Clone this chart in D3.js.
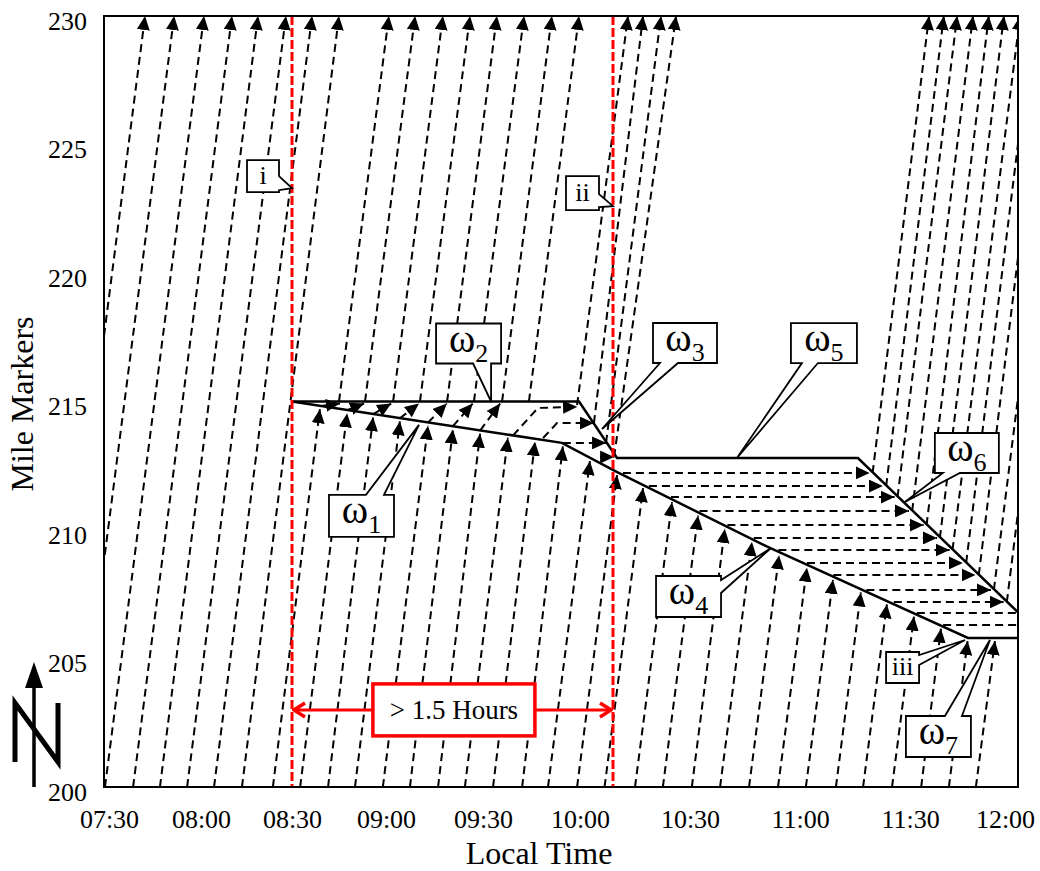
<!DOCTYPE html>
<html>
<head>
<meta charset="utf-8">
<script src="https://cdn.jsdelivr.net/npm/d3@7"></script>
<style>
  body { margin: 0; background: #fff; }
  svg { font-family: "Liberation Serif", "Times New Roman", serif; }
</style>
</head>
<body>
<div id="chart"></div>
<script>
// Time is kept as minutes after 07:30, position as mile marker.
const timeTicks = [0, 30, 60, 90, 120, 150, 180, 210, 240, 270];
const timeLabels = ['07:30', '08:00', '08:30', '09:00', '09:30', '10:00', '10:30', '11:00', '11:30', '12:00'];
const mileTicks = [200, 205, 210, 215, 220, 225, 230];

// Vehicles that pass before the incident (mile 200 -> 230)
const freeFlow = [
  [[-17.9, 200], [12.7, 230]],
  [[-9.0, 200], [21.7, 230]],
  [[0.3, 200], [31.0, 230]],
  [[9.0, 200], [40.2, 230]],
  [[17.3, 200], [48.8, 230]],
  [[25.7, 200], [58.0, 230]],
  [[34.3, 200], [66.4, 230]],
  [[43.5, 200], [75.0, 230]]
];

// Vehicles running into the back of the queue
const approach = [
  [[53.7, 200], [68.9, 214.70]],
  [[62.6, 200], [77.6, 214.54]],
  [[71.5, 200], [85.9, 214.39]],
  [[80.1, 200], [94.3, 214.23]],
  [[89.0, 200], [103.0, 214.06]],
  [[97.4, 200], [110.7, 213.91]],
  [[106.1, 200], [119.1, 213.75]],
  [[114.4, 200], [127.7, 213.59]],
  [[123.1, 200], [136.1, 213.43]],
  [[132.1, 200], [144.7, 213.25]],
  [[140.1, 200], [152.7, 212.68]],
  [[149.1, 200], [160.1, 212.14]],
  [[156.7, 200], [167.2, 211.63]],
  [[165.0, 200], [175.1, 211.08]],
  [[172.6, 200], [182.2, 210.56]],
  [[180.5, 200], [189.5, 210.04]],
  [[188.2, 200], [196.9, 209.53]],
  [[196.1, 200], [204.3, 209.02]],
  [[204.0, 200], [211.9, 208.53]],
  [[211.6, 200], [219.0, 208.06]],
  [[219.8, 200], [226.6, 207.57]],
  [[227.2, 200], [233.7, 207.11]],
  [[235.1, 200], [241.1, 206.63]],
  [[243.1, 200], [248.6, 206.16]],
  [[250.8, 200], [256.0, 205.68]],
  [[258.3, 200], [263.6, 205.68]]
];

// Slow movement inside the first queue
const inQueue = [
  [[68.9, 214.82], [75.3, 214.92]],
  [[77.6, 214.66], [83.0, 214.92]],
  [[85.9, 214.51], [91.6, 214.92]],
  [[94.3, 214.35], [100.2, 214.92]],
  [[103.0, 214.18], [108.8, 214.92]],
  [[110.7, 214.04], [116.8, 214.92]],
  [[119.1, 213.87], [125.3, 214.92]],
  [[129.3, 213.68], [137.0, 214.75], [149.1, 214.79]],
  [[138.6, 213.58], [142.9, 214.16], [153.8, 214.16]],
  [[144.7, 213.39], [157.1, 213.39]],
  [[155.5, 212.84], [159.3, 212.84]]
];

// Stopped vehicles in the second queue
const stopped = [
  [[161.7, 212.22], [229.0, 212.22]],
  [[168.8, 211.71], [232.6, 211.71]],
  [[174.8, 211.28], [235.8, 211.28]],
  [[182.6, 210.74], [239.7, 210.74]],
  [[190.2, 210.19], [243.8, 210.19]],
  [[197.4, 209.69], [247.5, 209.69]],
  [[204.1, 209.22], [251.0, 209.22]],
  [[211.9, 208.72], [254.7, 208.72]],
  [[219.1, 208.25], [258.2, 208.25]],
  [[228.1, 207.67], [262.5, 207.67]],
  [[235.6, 207.20], [266.0, 207.20]]
];
const stillStopped = [
  [[241.9, 206.77], [270, 206.77]],
  [[249.2, 206.30], [270, 206.30]]
];

// Vehicles leaving the queue front (-> mile 230)
const departures = [
  [[75.0, 215], [90.9, 230]],
  [[83.3, 215], [99.0, 230]],
  [[92.2, 215], [107.6, 230]],
  [[100.5, 215], [116.0, 230]],
  [[108.9, 215], [124.3, 230]],
  [[117.2, 215], [132.7, 230]],
  [[125.9, 215], [141.3, 230]],
  [[134.2, 215], [149.7, 230]],
  [[149.1, 214.86], [163.1, 230]],
  [[153.8, 214.16], [167.2, 230]],
  [[157.1, 213.39], [172.1, 230]],
  [[159.3, 212.84], [176.2, 230]],
  [[229.8, 212.22], [245.3, 230]],
  [[233.5, 211.71], [249.4, 230]],
  [[236.6, 211.28], [253.1, 230]],
  [[240.6, 210.74], [257.5, 230]],
  [[244.6, 210.19], [261.9, 230]],
  [[248.3, 209.69], [266.1, 230]],
  [[251.8, 209.22], [270.6, 230]],
  [[255.6, 208.72], [274.4, 230]],
  [[259.1, 208.25], [278.3, 230]],
  [[263.3, 207.67], [283.3, 230]],
  [[266.9, 207.20], [287.2, 230]]
];

// Shock waves: back of queue (w1, w4, w7) and front of queue (w2, w3, w5, w6)
const queueTail = [[60, 215], [144.4, 213.39], [160.0, 212.26], [201.8, 209.30], [256.1, 205.80], [270, 205.80]];
const queueHead = [[60, 215], [149.7, 215], [160.1, 212.80], [225.8, 212.80], [270, 206.80]];

// Marked times (08:30 and 10:09)
const markTimes = [60, 159];
const markLabels = ['i', 'ii'];

const width = 1040;
const height = 871;
const plot = { left: 104, right: 1018, top: 16, bottom: 787 };

// The time labels in the original are not evenly spaced, so the scale is piecewise.
const timeStops = [104, 201, 292, 386, 483, 580, 690, 800, 910, 1018];

const x = d3.scaleLinear().domain(timeTicks).range(timeStops);
const y = d3.scaleLinear().domain([200, 230]).range([plot.bottom, plot.top]);

const svg = d3.select('#chart').append('svg')
  .attr('width', width)
  .attr('height', height);

const defs = svg.append('defs');

defs.append('clipPath').attr('id', 'plotClip')
  .append('rect')
  .attr('x', plot.left)
  .attr('y', plot.top)
  .attr('width', plot.right - plot.left)
  .attr('height', plot.bottom - plot.top);

defs.append('marker')
  .attr('id', 'arrow')
  .attr('viewBox', '0 -6.5 14 13')
  .attr('refX', 14)
  .attr('refY', 0)
  .attr('markerUnits', 'userSpaceOnUse')
  .attr('markerWidth', 14)
  .attr('markerHeight', 13)
  .attr('orient', 'auto')
  .append('path')
  .attr('d', 'M0,-6.5L14,0L0,6.5Z')
  .attr('fill', '#000');

defs.append('marker')
  .attr('id', 'redArrow')
  .attr('viewBox', '-3 -10 16 20')
  .attr('refX', 11)
  .attr('refY', 0)
  .attr('markerUnits', 'userSpaceOnUse')
  .attr('markerWidth', 16)
  .attr('markerHeight', 20)
  .attr('orient', 'auto-start-reverse')
  .append('path')
  .attr('d', 'M0,-7L11,0L0,7')
  .attr('fill', 'none')
  .attr('stroke', '#ff0000')
  .attr('stroke-width', 3.5);

const line = d3.line()
  .x(d => x(d[0]))
  .y(d => y(d[1]));

const plotArea = svg.append('g').attr('clip-path', 'url(#plotClip)');

// Draw a group of vehicle trajectories
function drawTrips(data, withArrow) {
  plotArea.append('g')
    .selectAll('path')
    .data(data)
    .join('path')
    .attr('d', line)
    .attr('fill', 'none')
    .attr('stroke', '#000')
    .attr('stroke-width', 2)
    .attr('stroke-dasharray', '8,5');
}

drawTrips(freeFlow);
drawTrips(approach);
drawTrips(inQueue);
drawTrips(stopped);
drawTrips(stillStopped);
drawTrips(departures);

// Arrowheads go on a solid invisible copy so the dash pattern does not matter
function drawHeads(data) {
  plotArea.append('g')
    .selectAll('path')
    .data(data)
    .join('path')
    .attr('d', line)
    .attr('fill', 'none')
    .attr('stroke', 'none')
    .attr('marker-end', 'url(#arrow)');
}

drawHeads(freeFlow);
drawHeads(approach);
drawHeads(inQueue);
drawHeads(stopped);
drawHeads(departures);

// Shock wave lines
plotArea.selectAll('.shock')
  .data([queueTail, queueHead])
  .join('path')
  .attr('class', 'shock')
  .attr('d', line)
  .attr('fill', 'none')
  .attr('stroke', '#000')
  .attr('stroke-width', 2.5)
  .attr('stroke-linejoin', 'miter');

// Red dashed incident lines
svg.selectAll('.mark')
  .data(markTimes)
  .join('line')
  .attr('class', 'mark')
  .attr('x1', d => x(d))
  .attr('x2', d => x(d))
  .attr('y1', plot.top)
  .attr('y2', plot.bottom)
  .attr('stroke', '#ff0000')
  .attr('stroke-width', 3)
  .attr('stroke-dasharray', '9,3');

// Plot border
svg.append('rect')
  .attr('x', plot.left)
  .attr('y', plot.top)
  .attr('width', plot.right - plot.left)
  .attr('height', plot.bottom - plot.top)
  .attr('fill', 'none')
  .attr('stroke', '#000')
  .attr('stroke-width', 2);

// Duration arrow between the two red lines
svg.append('line')
  .attr('x1', x(markTimes[0]) + 2)
  .attr('x2', x(markTimes[1]) - 2)
  .attr('y1', y(203))
  .attr('y2', y(203))
  .attr('stroke', '#ff0000')
  .attr('stroke-width', 3)
  .attr('marker-start', 'url(#redArrow)')
  .attr('marker-end', 'url(#redArrow)');

const hoursX = x(111);
const hoursY = y(203);
svg.append('rect')
  .attr('x', hoursX - 81)
  .attr('y', hoursY - 26)
  .attr('width', 162)
  .attr('height', 52)
  .attr('fill', '#fff')
  .attr('stroke', '#ff0000')
  .attr('stroke-width', 3.5);

svg.append('text')
  .attr('x', hoursX)
  .attr('y', hoursY + 9)
  .attr('text-anchor', 'middle')
  .attr('font-size', 27)
  .text('> 1.5 Hours');

// Callout boxes: tip in data units, box offset and size in pixels
const callouts = [
  { text: markLabels[0], tip: [markTimes[0], 223.3], box: [-45, -28, 32, 32], side: 'right', base: [16, 30] },
  { text: markLabels[1], tip: [markTimes[1], 222.6], box: [-47, -30, 33, 34], side: 'right', base: [18, 31] },
  { text: 'iii', tip: [255.3, 205.72], box: [-79, 12, 33, 31], side: 'right', base: [3, 13] },
  { text: 'ω', sub: '1', tip: [100.2, 214.09], box: [-90, 70, 65, 42], side: 'top', base: [37, 55] },
  { text: 'ω', sub: '2', tip: [122.5, 215], box: [-55, -78, 65, 40], side: 'bottom', base: [37, 55] },
  { text: 'ω', sub: '3', tip: [156.0, 213.93], box: [51, -106, 64, 40], side: 'bottom', base: [7, 25] },
  { text: 'ω', sub: '4', tip: [202.1, 209.30], box: [-115, 28, 65, 41], side: 'right', base: [4, 17] },
  { text: 'ω', sub: '5', tip: [192.8, 212.8], box: [54, -135, 66, 40], side: 'bottom', base: [11, 27] },
  { text: 'ω', sub: '6', tip: [238.6, 211.09], box: [30, -69, 64, 40], side: 'bottom', base: [8, 25] },
  { text: 'ω', sub: '7', tip: [262.2, 205.72], box: [-84, 76, 65, 41], side: 'top', base: [39, 56] }
];

function calloutPath(c) {
  const tx = x(c.tip[0]);
  const ty = y(c.tip[1]);
  const x0 = tx + c.box[0];
  const y0 = ty + c.box[1];
  const x1 = x0 + c.box[2];
  const y1 = y0 + c.box[3];
  const pts = [[x0, y0]];
  if (c.side === 'top') pts.push([x0 + c.base[0], y0], [tx, ty], [x0 + c.base[1], y0]);
  pts.push([x1, y0]);
  if (c.side === 'right') pts.push([x1, y0 + c.base[0]], [tx, ty], [x1, y0 + c.base[1]]);
  pts.push([x1, y1]);
  if (c.side === 'bottom') pts.push([x0 + c.base[1], y1], [tx, ty], [x0 + c.base[0], y1]);
  pts.push([x0, y1]);
  return 'M' + pts.map(p => p.join(',')).join('L') + 'Z';
}

const calloutGroups = svg.selectAll('.callout')
  .data(callouts)
  .join('g')
  .attr('class', 'callout');

calloutGroups.append('path')
  .attr('d', calloutPath)
  .attr('fill', '#fff')
  .attr('stroke', '#000')
  .attr('stroke-width', 1.8)
  .attr('stroke-linejoin', 'miter');

calloutGroups.append('text')
  .attr('x', c => x(c.tip[0]) + c.box[0] + c.box[2] / 2)
  .attr('y', c => y(c.tip[1]) + c.box[1] + (c.sub ? 28 : c.box[3] / 2 + 8))
  .attr('text-anchor', 'middle')
  .each(function(c) {
    const t = d3.select(this);
    if (c.sub) {
      t.append('tspan').attr('font-size', 40).text(c.text);
      t.append('tspan').attr('font-size', 26).attr('dy', 10).text(c.sub);
    } else {
      t.attr('font-size', 26).text(c.text);
    }
  });

// Axes
const xAxis = svg.append('g')
  .attr('transform', `translate(0,${plot.bottom})`)
  .call(d3.axisBottom(x)
    .tickValues(timeTicks)
    .tickFormat((d, i) => timeLabels[i])
    .tickSize(0)
    .tickPadding(23));
xAxis.select('.domain').remove();
xAxis.selectAll('text')
  .attr('font-size', 26)
  .attr('font-family', '"Liberation Serif", "Times New Roman", serif')
  .attr('fill', '#000')
  .attr('dx', (d, i) => i === 0 ? 5 : (i === timeTicks.length - 1 ? -13 : 0));

const yAxis = svg.append('g')
  .attr('transform', `translate(${plot.left},0)`)
  .call(d3.axisLeft(y)
    .tickValues(mileTicks)
    .tickSize(0)
    .tickPadding(17));
yAxis.select('.domain').remove();
yAxis.selectAll('text')
  .attr('font-size', 26)
  .attr('font-family', '"Liberation Serif", "Times New Roman", serif')
  .attr('fill', '#000')
  .attr('dy', '0.5em');

// Axis titles
svg.append('text')
  .attr('x', 539)
  .attr('y', 864)
  .attr('text-anchor', 'middle')
  .attr('font-size', 32)
  .text('Local Time');

svg.append('text')
  .attr('transform', 'translate(33,404) rotate(-90)')
  .attr('text-anchor', 'middle')
  .attr('font-size', 32)
  .text('Mile Markers');

// North arrow
const north = svg.append('g');
north.append('line')
  .attr('x1', 34).attr('x2', 34)
  .attr('y1', 686).attr('y2', 787)
  .attr('stroke', '#000')
  .attr('stroke-width', 3.5);
north.append('path')
  .attr('d', 'M34,662L43,688L25,688Z')
  .attr('fill', '#000');
north.append('path')
  .attr('d', 'M15,762L15,703L58,762L58,703')
  .attr('fill', 'none')
  .attr('stroke', '#000')
  .attr('stroke-width', 5)
  .attr('stroke-linejoin', 'miter');
</script>
</body>
</html>
